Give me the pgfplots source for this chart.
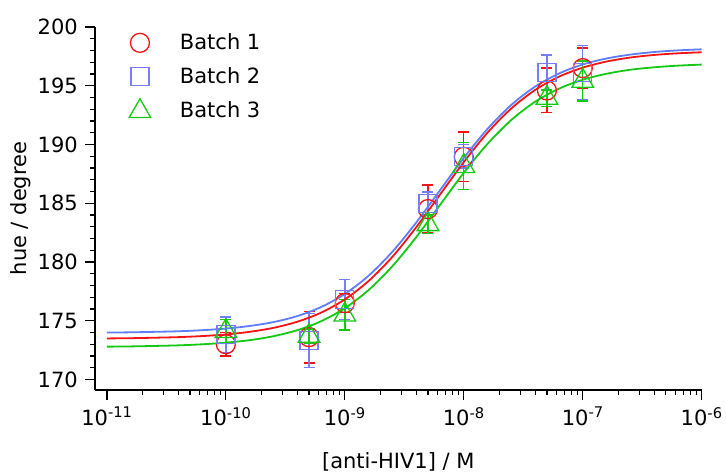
\documentclass[border=0pt]{standalone}
\usepackage{fontspec}
\setmainfont{DejaVu Sans}
\usepackage{pgfplots}
\pgfplotsset{compat=1.18}
\definecolor{cred}{RGB}{245,20,20}
\definecolor{cblue}{RGB}{120,125,255}
\definecolor{cbluel}{RGB}{95,125,255}
\definecolor{cgreen}{RGB}{20,200,20}
\newcommand{\fs}{\fontsize{21}{25}\selectfont}
\begin{document}
\fs
\begin{tikzpicture}
\begin{axis}[
  scale only axis, width=606.7pt, height=363pt,
  xmode=log, log basis x=10,
  xmin=7.94e-12, xmax=1e-6, ymin=169.1, ymax=200,
  axis lines=left, axis line style={-, line width=1.2pt},
  tick align=outside, tick style={line width=1.2pt, black},
  major tick length=10pt, minor tick length=5pt,
  xtick={1e-11,1e-10,1e-9,1e-8,1e-7,1e-6},
  xticklabels={10\textsuperscript{-11},10\textsuperscript{-10},10\textsuperscript{-9},10\textsuperscript{-8},10\textsuperscript{-7},10\textsuperscript{-6}},
  minor xtick={2e-11,3e-11,4e-11,5e-11,6e-11,7e-11,8e-11,9e-11,
               2e-10,3e-10,4e-10,5e-10,6e-10,7e-10,8e-10,9e-10,
               2e-9,3e-9,4e-9,5e-9,6e-9,7e-9,8e-9,9e-9,
               2e-8,3e-8,4e-8,5e-8,6e-8,7e-8,8e-8,9e-8,
               2e-7,3e-7,4e-7,5e-7,6e-7,7e-7,8e-7,9e-7},
  ytick={170,175,180,185,190,195,200},
  minor y tick num=4,
  /pgf/number format/assume math mode=true,
  tick label style={font=\fs},
  label style={font=\fs},
  xlabel={[anti-HIV1] / M},
  xlabel style={yshift=-12pt},
  ylabel={hue / degree},
  ylabel style={yshift=-7pt},
  legend style={at={(0.054,0.99)}, anchor=north west, draw=none, fill=none,
    font=\fs, row sep=10pt, inner sep=0pt},
  legend cell align=left,
  legend image code/.code={\path[draw=none,fill=none] (0pt,-12pt) rectangle (50pt,12pt); \draw[#1] plot coordinates {(12pt,0pt)};},
  clip=false,
]
\coordinate (SW) at (rel axis cs:0,0);
\addplot[only marks, color=cred, mark=o, mark size=9.5pt, line width=1.3pt,
  error bars/.cd, y dir=both, y explicit,
  error bar style={line width=1.4pt, cred}, error mark options={line width=1.4pt, cred, mark size=5.5pt, rotate=90}]
  coordinates {
  (1e-10,173.0) +- (0,1.0)
  (5e-10,173.6) +- (0,2.2)
  (1e-9,176.5) +- (0,0.8)
  (5e-9,184.5) +- (0,2.05)
  (1e-8,188.95) +- (0,2.1)
  (5e-8,194.6) +- (0,1.9)
  (1e-7,196.5) +- (0,1.7)
  };
\addlegendentry{Batch 1}
\addplot[only marks, color=cblue, mark=square, mark size=9pt, line width=1.3pt,
  error bars/.cd, y dir=both, y explicit,
  error bar style={line width=1.4pt, cblue}, error mark options={line width=1.4pt, cblue, mark size=5.5pt, rotate=90}]
  coordinates {
  (1e-10,173.8) +- (0,1.5)
  (5e-10,173.3) +- (0,2.3)
  (1e-9,176.8) +- (0,1.7)
  (5e-9,184.95) +- (0,1.0)
  (1e-8,189.0) +- (0,1.0)
  (5e-8,196.1) +- (0,1.5)
  (1e-7,196.1) +- (0,2.3)
  };
\addlegendentry{Batch 2}
\addplot[only marks, color=cgreen, mark=triangle, mark size=12.5pt, line width=1.3pt,
  error bars/.cd, y dir=both, y explicit,
  error bar style={line width=1.4pt, cgreen}, error mark options={line width=1.4pt, cgreen, mark size=5.5pt, rotate=90}]
  coordinates {
  (1e-10,174.1) +- (0,1.0)
  (5e-10,173.7) +- (0,0.6)
  (1e-9,175.5) +- (0,1.3)
  (5e-9,183.2) +- (0,0.8)
  (1e-8,188.15) +- (0,2.0)
  (5e-8,193.95) +- (0,0.7)
  (1e-7,195.4) +- (0,1.7)
  };
\addlegendentry{Batch 3}
\addplot[forget plot, cbluel, line width=1.8pt, smooth] coordinates {
(1e-11,173.99) (1.585e-11,174.01) (2.512e-11,174.05) (3.981e-11,174.10) (6.310e-11,174.19)
(1e-10,174.33) (1.585e-10,174.55) (2.512e-10,174.88) (3.981e-10,175.39) (6.310e-10,176.16)
(1e-9,177.27) (1.585e-9,178.83) (2.512e-9,180.87) (3.981e-9,183.35) (6.310e-9,186.10)
(1e-8,188.85) (1.585e-8,191.33) (2.512e-8,193.37) (3.981e-8,194.93) (6.310e-8,196.04)
(1e-7,196.81) (1.585e-7,197.32) (2.512e-7,197.65) (3.981e-7,197.87) (6.310e-7,198.01) (1e-6,198.10)
};
\addplot[forget plot, cred, line width=1.8pt, smooth] coordinates {
(1e-11,173.49) (1.585e-11,173.51) (2.512e-11,173.55) (3.981e-11,173.60) (6.310e-11,173.69)
(1e-10,173.83) (1.585e-10,174.05) (2.512e-10,174.39) (3.981e-10,174.91) (6.310e-10,175.68)
(1e-9,176.81) (1.585e-9,178.38) (2.512e-9,180.44) (3.981e-9,182.95) (6.310e-9,185.73)
(1e-8,188.50) (1.585e-8,191.01) (2.512e-8,193.07) (3.981e-8,194.64) (6.310e-8,195.77)
(1e-7,196.54) (1.585e-7,197.06) (2.512e-7,197.40) (3.981e-7,197.62) (6.310e-7,197.76) (1e-6,197.85)
};
\addplot[forget plot, cgreen, line width=1.8pt, smooth] coordinates {
(1e-11,172.79) (1.585e-11,172.81) (2.512e-11,172.85) (3.981e-11,172.90) (6.310e-11,172.99)
(1e-10,173.13) (1.585e-10,173.34) (2.512e-10,173.68) (3.981e-10,174.19) (6.310e-10,174.95)
(1e-9,176.06) (1.585e-9,177.61) (2.512e-9,179.64) (3.981e-9,182.11) (6.310e-9,184.85)
(1e-8,187.59) (1.585e-8,190.06) (2.512e-8,192.09) (3.981e-8,193.64) (6.310e-8,194.75)
(1e-7,195.51) (1.585e-7,196.02) (2.512e-7,196.36) (3.981e-7,196.57) (6.310e-7,196.71) (1e-6,196.80)
};
\end{axis}
\pgfresetboundingbox
\path (SW) ++(-95pt,-84pt) rectangle ++(726pt,474pt);
\end{tikzpicture}
\end{document}
